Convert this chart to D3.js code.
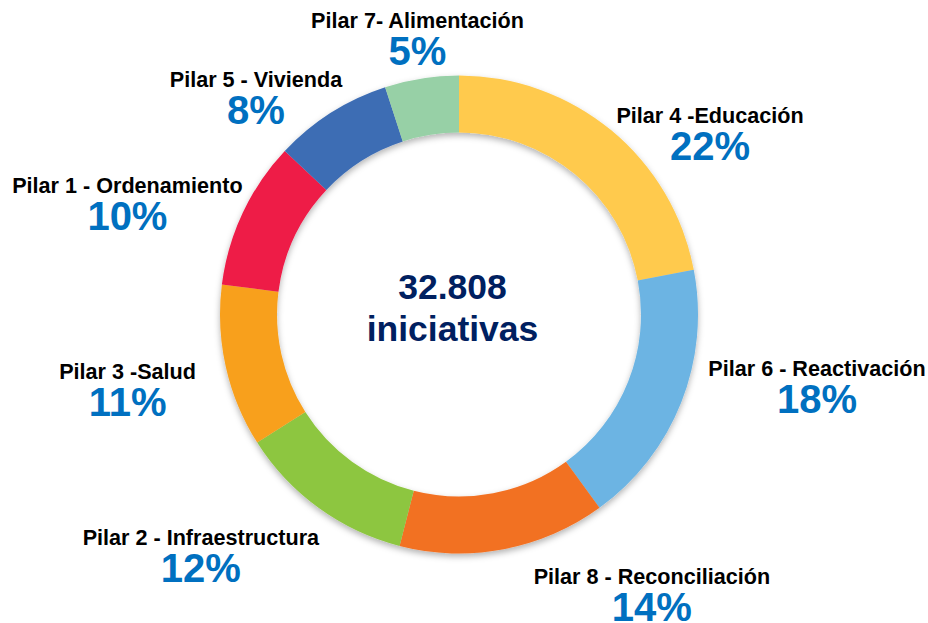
<!DOCTYPE html>
<html>
<head>
<meta charset="utf-8">
<script src="https://cdn.jsdelivr.net/npm/d3@7"></script>
<style>
  body { margin: 0; background: #fff; }
  svg { display: block; }
  text { font-family: Arial, 'Liberation Sans', sans-serif; font-weight: bold; }
</style>
</head>
<body>
<div id="donut-chart"></div>
<script>
// slices, clockwise from 12 o'clock
const pilares = ['Pilar 4 -Educación', 'Pilar 6 - Reactivación', 'Pilar 8 - Reconciliación',
  'Pilar 2 - Infraestructura', 'Pilar 3 -Salud', 'Pilar 1 - Ordenamiento',
  'Pilar 5 - Vivienda', 'Pilar 7- Alimentación'];
const porcentajes = [22, 18, 14, 12, 11, 10, 8, 5];
const colores = ['#ffca4e', '#6cb4e3', '#f27123', '#8dc63f', '#f8a01f', '#ee1a47', '#3d6db4', '#97d0a6'];
const totalTexto = ['32.808', 'iniciativas'];

// where each label block sits: [angle in degrees from top, distance from the centre]
const labelPolar = [[55.5, 304.6], [102.6, 366.8], [146.2, 346.7], [226, 358.9],
  [255.9, 341.7], [287.3, 347.3], [315.9, 291.7], [351.2, 271.2]];

const width = 928;
const height = 623;
const cx = 459;
const cy = 314.5;
const outerR = 239;
const innerR = 182;

const data = pilares.map((p, i) => ({ name: p, value: porcentajes[i], color: colores[i] }));

const pie = d3.pie()
  .sort(null)
  .value(d => d.value);

const arc = d3.arc()
  .innerRadius(innerR)
  .outerRadius(outerR);

const svg = d3.select('#donut-chart').append('svg')
  .attr('width', width)
  .attr('height', height)
  .attr('viewBox', `0, 0, ${width}, ${height}`);

const filter = svg.append('defs')
  .append('filter')
  .attr('id', 'shadow')
  .attr('x', '-10%').attr('y', '-10%')
  .attr('width', '120%').attr('height', '120%');
filter.append('feDropShadow')
  .attr('dx', 0)
  .attr('dy', 3)
  .attr('stdDeviation', 3)
  .attr('flood-color', '#000')
  .attr('flood-opacity', 0.3);

const g = svg.append('g')
  .attr('transform', `translate(${cx},${cy})`);

g.append('g')
  .attr('filter', 'url(#shadow)')
  .selectAll('path')
  .data(pie(data))
  .enter()
  .append('path')
  .attr('fill', d => d.data.color)
  .attr('d', arc);

// labels
const labels = g.selectAll('g.label')
  .data(data)
  .enter()
  .append('g')
  .attr('class', 'label')
  .attr('transform', (d, i) => {
    const p = d3.pointRadial(labelPolar[i][0] * Math.PI / 180, labelPolar[i][1]);
    return `translate(${p[0]},${p[1]})`;
  });

labels.append('text')
  .attr('text-anchor', 'middle')
  .attr('y', -18.5)
  .attr('fill', '#000')
  .style('font-size', '21.6px')
  .text(d => d.name);

labels.append('text')
  .attr('text-anchor', 'middle')
  .attr('y', 18.5)
  .attr('fill', '#0070c0')
  .style('font-size', '40px')
  .text(d => d.value + '%');

// centre
g.append('g')
  .selectAll('text')
  .data(totalTexto)
  .enter()
  .append('text')
  .attr('text-anchor', 'middle')
  .attr('x', -6.5)
  .attr('y', (d, i) => -16 + i * 42.5)
  .attr('fill', '#002060')
  .style('font-size', '35.5px')
  .text(d => d);
</script>
</body>
</html>
